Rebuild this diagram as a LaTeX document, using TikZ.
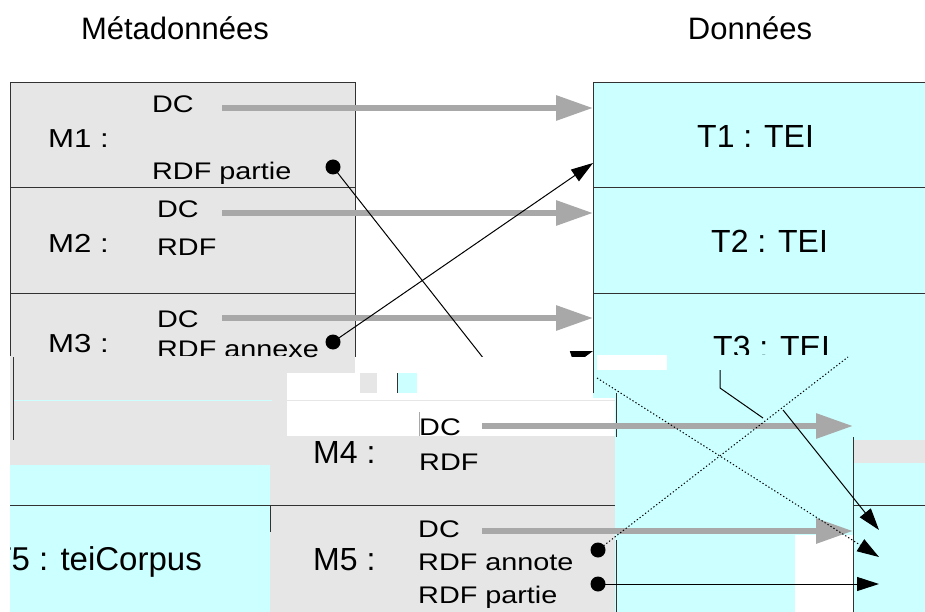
\documentclass[tikz,border=0pt]{standalone}
\usepackage{fontspec}
\setmainfont{Liberation Sans}
\newfontfamily\smallf[FakeStretch=1.2]{Liberation Sans}
\newfontfamily\mlabf[FakeStretch=1.2]{Liberation Sans}
\usetikzlibrary{arrows.meta}
\definecolor{mgrey}{RGB}{230,230,230}
\definecolor{dcyan}{RGB}{204,255,255}
\definecolor{agrey}{RGB}{168,168,168}
\definecolor{frameC}{RGB}{50,50,50}
\begin{document}
\begin{tikzpicture}[x=1pt,y=-1pt,
  rowM/.style={fill=mgrey, minimum width=345pt, inner sep=0, outer sep=0, anchor=north west},
  rowT/.style={fill=dcyan, minimum width=332pt, inner sep=0, outer sep=0, anchor=north west},
  frame/.style={draw=frameC, line width=1pt},
  lbl/.style={anchor=base west, inner sep=0, font=\smallf\fontsize{24}{28}\selectfont},
  mlbl/.style={anchor=base west, inner sep=0, font=\mlabf\fontsize{26}{30}\selectfont},
  big/.style={anchor=base west, inner sep=0, font=\fontsize{32}{36}\selectfont},
  ttl/.style={anchor=base, inner sep=0, font=\fontsize{31}{36}\selectfont},
  ga/.style={draw=agrey, line width=6pt, -{Triangle[length=37pt,width=24pt]}},
  ba/.style={draw=black, line width=1pt, -{Triangle[length=22pt,width=14pt]}},
  thinl/.style={draw=black, line width=1pt},
  dotl/.style={draw=black, line width=1pt, dash pattern=on 1.3pt off 2.2pt},
  dot/.style={circle, fill=black, minimum size=15pt, inner sep=0, outer sep=0}]
\useasboundingbox (0,0) rectangle (925,612);
\clip (0,0) rectangle (925,612);
\fill[white] (0,0) rectangle (925,612);

% titles
\node[ttl] (tm) at (175,40) {Métadonnées};
\node[ttl] (td) at (750,40) {Données};

% rows
\node[rowM, minimum height=105pt] (m1) at (10,83) {};
\node[rowM, minimum height=105pt] (m2) at (10,188) {};
\node[rowM, minimum height=80pt] (m3) at (10,293) {};
\node[rowT, minimum height=105pt] (t1) at (593,83) {};
\node[rowT, minimum height=105pt] (t2) at (593,188) {};
\node[rowT, minimum height=107pt] (t3) at (593,293) {};

\draw[frame] (10,357) -- (m1.north west) -- (m1.north east) -- (355,370);
\draw[frame] (m1.south west) -- (m1.south east);
\draw[frame] (m2.south west) -- (m2.south east);
\draw[frame] (593,393) -- (t1.north west) -- (t1.north east);
\draw[frame] (t1.south west) -- (t1.south east);
\draw[frame] (t2.south west) -- (t2.south east);

% labels top
\node[mlbl] (l1) at (48,148) {M1 :};
\node[lbl] (m1dc) at (152,113) {DC};
\node[lbl] (m1rdf) at (152,180) {RDF partie};
\node[mlbl] (l2) at (48,252) {M2 :};
\node[lbl] (m2dc) at (157,218) {DC};
\node[lbl] (m2rdf) at (157,255) {RDF};
\node[mlbl] (l3) at (48,352) {M3 :};
\node[lbl] (m3dc) at (157,327) {DC};
\node[lbl] (m3rdf) at (157,357.5) {RDF annexe};
\node[big] (lt1) at (697,148) {T1 : TEI};
\node[big] (lt2) at (711,252) {T2 : TEI};
\node[big] (lt3) at (713,358) {T3 : TEI};

% grey arrows top
\coordinate (a1) at (222,108);
\coordinate (a2) at (222,213);
\coordinate (a3) at (222,318);
\draw[ga] (a1) -- (a1 -| t1.west);
\draw[ga] (a2) -- (a2 -| t2.west);
\draw[ga] (a3) -- (a3 -| t3.west);

% black links top
\node[dot] (p1) at (333,167) {};
\node[dot] (p3) at (333,342) {};
\coordinate (x1) at (484,359);
\coordinate (t1in) at (593,163);
\coordinate (q3) at (545,367);
\coordinate (t3in) at (593,351);
\draw[thinl] (p1.center) -- (x1);
\draw[ba] (p3.center) -- (t1in);
\draw[ba] (q3) -- (t3in);

% ---- damaged band and lower part ----
\fill[mgrey] (10,356) rectangle (287,465);
\fill[white] (355,357) rectangle (593,373);
\fill[white] (287,373) rectangle (593,436);
\fill[white] (593,398) rectangle (615,436);
\fill[dcyan] (615,355) rectangle (925,612);
\fill[white] (597,355) rectangle (667,370);
\fill[mgrey] (270,436) rectangle (615,612);
\fill[dcyan] (10,465) rectangle (270,612);
\fill[mgrey] (853,440) rectangle (925,463);
\fill[white] (795,535) rectangle (853,612);
\fill[mgrey] (360,373) rectangle (377,393);
\fill[dcyan] (397,373) rectangle (417,393);
\draw[frame] (397,373) -- (397,393);
\draw[dcyan, line width=1pt] (13,400) -- (272,400);
\draw[mgrey, line width=1pt] (287,400) -- (615,400);
\draw[agrey, line width=0.6pt] (419,412) -- (419,436);

\draw[frame] (13,357) -- (13,440);
\draw[frame] (10,505) -- (615,505);
\draw[frame] (270,505) -- (270,532);
\draw[frame] (853,505) -- (925,505);
\draw[frame] (853,437) -- (853,612);
\draw[frame] (616,393) -- (616,437);
\draw[frame] (616,540) -- (616,612);

% lower labels
\node[big] (l4) at (313,463) {M4 :};
\node[lbl] (m4dc) at (419,435) {DC};
\node[lbl] (m4rdf) at (419,470) {RDF};
\node[big] (l5) at (313,570) {M5 :};
\node[lbl] (m5dc) at (418,537) {DC};
\node[lbl] (m5ra) at (418,570) {RDF annote};
\node[lbl] (m5rp) at (418,603) {RDF partie};
\begin{scope}
\clip (10,465) rectangle (270,612);
\node[big, anchor=base east, font=\fontsize{33}{38}\selectfont] (lt5) at (202,570) {T5 : teiCorpus};
\end{scope}

% lower arrows
\coordinate (tedge) at (853,437);
\coordinate (g4) at (482,426);
\coordinate (g5) at (482,531);
\draw[ga] (g4) -- (g4 -| tedge);
\draw[ga] (g5) -- (g5 -| tedge);

\node[dot] (p5a) at (598,550) {};
\node[dot] (p5b) at (598,584) {};
\coordinate (h1) at (879,530);
\coordinate (h2) at (879,557);
\coordinate (h3) at (879,584);
\coordinate (s1) at (783,410);
\coordinate (s2) at (597,378);
\coordinate (e1) at (848,357);
\draw[ba] (p5b.center) -- (h3);
\draw[ba, dash pattern=on 1.3pt off 2.2pt] (s2) -- (h2);
\draw[dotl] (p5a.center) -- (e1);
\draw[ba] (s1) -- (h1);
\draw[thinl] (720,370) -- (720,388) -- (763,418);
\end{tikzpicture}
\end{document}
